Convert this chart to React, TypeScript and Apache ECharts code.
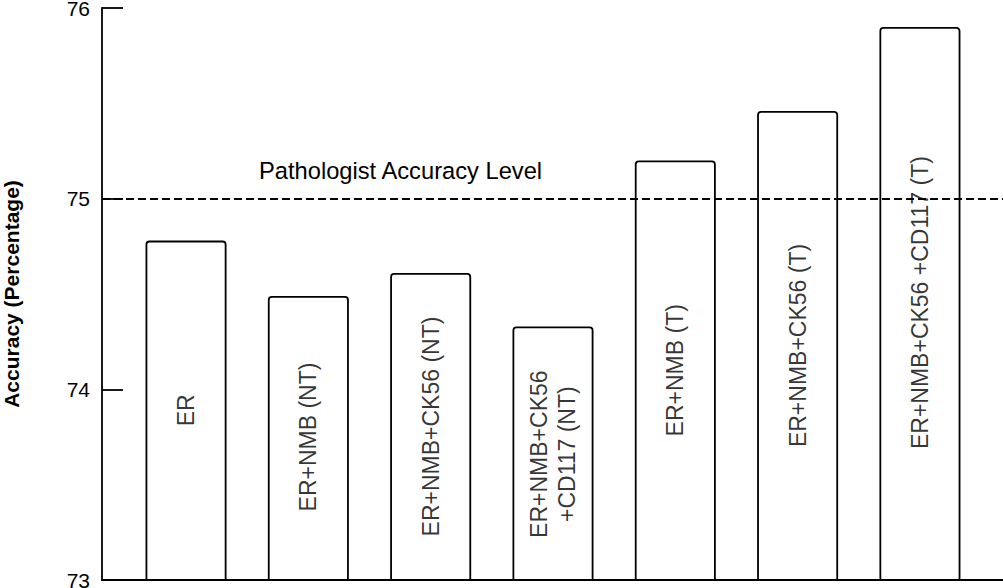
import React, { useEffect, useRef } from "react";
import * as echarts from "echarts";

const categories = [
  "ER",
  "ER+NMB (NT)",
  "ER+NMB+CK56 (NT)",
  "ER+NMB+CK56\n+CD117 (NT)",
  "ER+NMB (T)",
  "ER+NMB+CK56 (T)",
  "ER+NMB+CK56 +CD117 (T)",
];
const accuracy = [74.78, 74.49, 74.61, 74.33, 75.2, 75.46, 75.9];
// label centres along the value axis
const labelCenters = [73.89, 73.75, 73.805, 73.66, 74.1, 74.23, 74.455];
const yTicks = [73, 74, 75, 76];
const pathologistLevel = 75;
const pathologistLabel = "Pathologist Accuracy Level";
const yTitle = "Accuracy (Percentage)";

const FONT = "'Liberation Sans', Arial, Helvetica, sans-serif";

export default function App() {
  const ref = useRef<HTMLDivElement>(null);
  useEffect(() => {
    if (!ref.current) return;
    const chart = echarts.init(ref.current, undefined, { renderer: "svg" });
    chart.setOption({
      animation: false,
      backgroundColor: "#ffffff",
      grid: { left: 102, right: 0, top: 8, bottom: 8, containLabel: false, outerBoundsMode: "none" },
      xAxis: {
        type: "value",
        min: -0.687,
        max: 6.679,
        axisLine: { show: true, onZero: false, lineStyle: { color: "#000", width: 1.8 } },
        axisTick: { show: false },
        axisLabel: { show: false },
        splitLine: { show: false },
      },
      yAxis: {
        type: "value",
        min: yTicks[0],
        max: yTicks[yTicks.length - 1],
        interval: 1,
        name: yTitle,
        nameLocation: "middle",
        nameGap: 80,
        nameRotate: 90,
        nameTextStyle: { fontFamily: FONT, fontSize: 21, fontWeight: "bold", color: "#000" },
        axisLine: { show: true, onZero: false, lineStyle: { color: "#000", width: 1.8 } },
        axisTick: { show: true, inside: true, length: 21, lineStyle: { color: "#000", width: 1.8 } },
        axisLabel: { fontFamily: FONT, fontSize: 21, lineHeight: 15, color: "#000", margin: 12 },
        splitLine: { show: false },
      },
      series: [
        {
          type: "bar",
          barWidth: 81,
          data: accuracy.map((v, i) => [i, v]),
          itemStyle: {
            color: "#ffffff",
            borderColor: "#000",
            borderWidth: 1.8,
            borderRadius: [3, 3, 0, 0],
          },
          markLine: {
            silent: true,
            symbol: "none",
            lineStyle: { type: [8, 4], color: "#000", width: 1.8 },
            label: {
              show: true,
              formatter: pathologistLabel,
              position: "insideStartTop",
              distance: [157, 16],
              fontFamily: FONT,
              fontSize: 23.7,
              color: "#000",
            },
            data: [{ yAxis: pathologistLevel }],
          },
        },
        {
          type: "scatter",
          symbolSize: 0,
          silent: true,
          data: labelCenters.map((v, i) => [i, v]),
          label: {
            show: true,
            position: "inside",
            rotate: 90,
            align: "center",
            verticalAlign: "middle",
            formatter: (p: any) => categories[p.dataIndex],
            fontFamily: FONT,
            fontSize: 23,
            lineHeight: 28,
            color: "#000",
          },
        },
      ],
    });
    return () => chart.dispose();
  }, []);
  return (
    <div
      ref={ref}
      style={{ position: "absolute", left: 0, top: 0, width: 1003, height: 588, background: "#fff" }}
    />
  );
}
